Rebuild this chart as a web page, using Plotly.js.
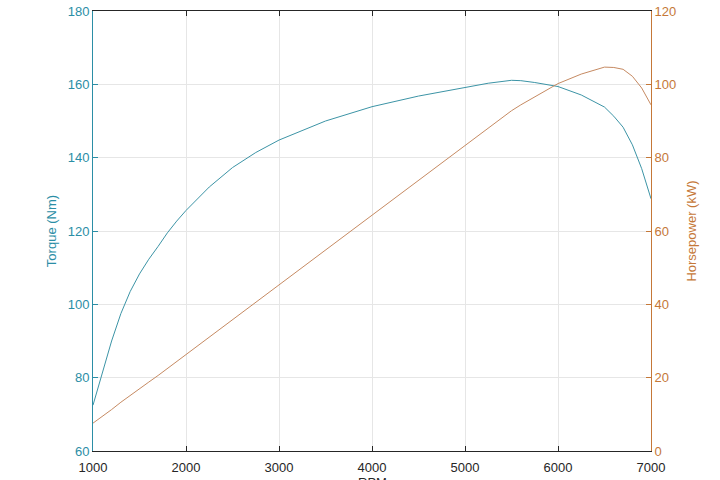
<!DOCTYPE html>
<html>
<head>
<meta charset="utf-8">
<script src="https://cdn.plot.ly/plotly-3.0.1.min.js"></script>
<style>html,body{margin:0;padding:0;background:#fff;}#chart{width:720px;height:480px;}</style>
</head>
<body>
<div id="chart"></div>
<script>
const rpm = [1000,1100,1200,1300,1400,1500,1600,1700,1800,1900,2000,2250,2500,2750,3000,3500,4000,4500,5000,5250,5500,5600,5750,6000,6250,6500,6600,6700,6800,6900,7000];
const torqueNm = [72.5,81.5,90,97.5,103.5,108.3,112.3,115.8,119.5,122.7,125.6,132.0,137.3,141.4,144.8,150.0,153.9,156.8,159.2,160.3,161.1,161.0,160.5,159.4,157.1,153.8,151.3,148.3,143.5,137.0,128.8];
const powerKW = [7.6,9.4,11.3,13.3,15.2,17.0,18.8,20.6,22.5,24.4,26.3,31.1,36.0,40.7,45.5,55.0,64.5,73.9,83.4,88.1,92.8,94.4,96.6,100.2,102.8,104.7,104.6,104.1,102.2,99.0,94.4];
const xTicks = [1000,2000,3000,4000,5000,6000,7000];

const leftCol = '#2b8ea6', rightCol = '#c57838';
const font = 'Liberation Sans, Arial, Helvetica, sans-serif';

const traces = [
  {x: rpm, y: torqueNm, type: 'scatter', mode: 'lines', line: {color: '#3c94a6', width: 1}, yaxis: 'y', hoverinfo: 'skip'},
  {x: rpm, y: powerKW, type: 'scatter', mode: 'lines', line: {color: '#c68a62', width: 1}, yaxis: 'y2', hoverinfo: 'skip'}
];

const layout = {
  width: 720, height: 480,
  margin: {l: 93, r: 69, t: 11, b: 29, pad: 0},
  paper_bgcolor: '#fff', plot_bgcolor: '#fff',
  showlegend: false,
  font: {family: font, size: 13, color: '#262626'},
  xaxis: {
    range: [1000, 7000], tickvals: xTicks, ticktext: xTicks.map(String),
    ticks: 'inside', ticklen: 5, tickcolor: '#262626', mirror: 'ticks',
    showline: true, linecolor: '#262626', linewidth: 1,
    showgrid: true, gridcolor: '#e6e6e6', zeroline: false,
    ticklabelstandoff: 4,
    tickfont: {size: 13, color: '#262626'}
  },
  yaxis: {
    range: [60, 180], dtick: 20, tick0: 60,
    ticks: 'inside', ticklen: 5, tickcolor: leftCol,
    showline: true, linecolor: leftCol, linewidth: 1,
    showgrid: true, gridcolor: '#e6e6e6', zeroline: false,
    tickfont: {size: 13, color: leftCol},
    title: {text: 'Torque (Nm)', font: {size: 13, color: leftCol}, standoff: 8}
  },
  yaxis2: {
    range: [0, 120], dtick: 20, tick0: 0, overlaying: 'y', side: 'right',
    ticks: 'inside', ticklen: 5, tickcolor: rightCol,
    showline: true, linecolor: rightCol, linewidth: 1,
    showgrid: false, zeroline: false,
    tickfont: {size: 13, color: rightCol},
    title: {text: 'Horsepower (kW)', font: {size: 13, color: rightCol}, standoff: 11}
  },
  annotations: [{
    text: 'RPM', xref: 'paper', yref: 'paper', x: 0.5, y: -(473 - 451) / 440,
    xanchor: 'center', yanchor: 'top', showarrow: false,
    font: {size: 13, color: '#262626', family: font}
  }]
};

Plotly.newPlot('chart', traces, layout, {staticPlot: true, displayModeBar: false});
</script>
</body>
</html>
